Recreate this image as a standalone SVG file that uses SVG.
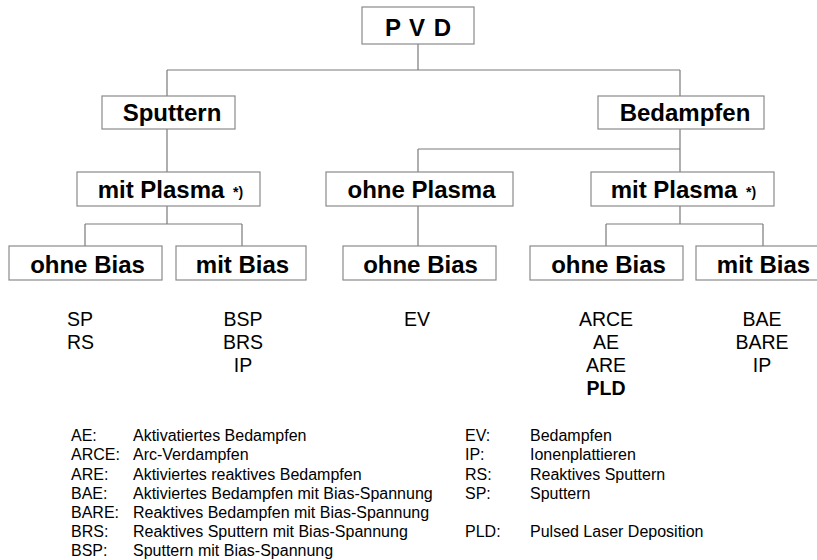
<svg xmlns="http://www.w3.org/2000/svg" width="817" height="560" viewBox="0 0 817 560">
<style>
.box{fill:#fff;stroke:#8a8a8a;stroke-width:1.2}
.lbl{font-family:"Liberation Sans",Arial,sans-serif;font-weight:bold;font-size:24px;fill:#000;text-anchor:middle}
.sup{font-family:"Liberation Sans",Arial,sans-serif;font-weight:bold;font-size:14px;fill:#000}
.lst{font-family:"Liberation Sans",Arial,sans-serif;font-size:19.5px;fill:#000}
.leg{font-family:"Liberation Sans",Arial,sans-serif;font-size:16px;fill:#000}
.con{fill:none;stroke:#7a7a7a;stroke-width:1.2}
</style>
<rect width="817" height="560" fill="#fff"/>
<g id="connectors">
<path class="con" d="M418 44V70M167 70H680M167 70V96M680 70V96"/>
<path class="con" d="M167 129V172M167 206V224M85 224H242M85 224V246M242 224V246"/>
<path class="con" d="M680 129V149M418 149H680M418 149V172M680 149V172"/>
<path class="con" d="M418 206V246"/>
<path class="con" d="M680 206V224M606 224H763M606 224V246M763 224V246"/>
</g>
<g id="pvd"><rect class="box" x="362" y="7" width="112" height="37"/><text class="lbl" x="418.5" y="36" font-size="26" letter-spacing="1">P V D</text></g>
<g id="sputtern"><rect class="box" x="102" y="96" width="133" height="33"/><text class="lbl" x="172" y="121">Sputtern</text></g>
<g id="bedampfen"><rect class="box" x="598" y="96" width="166" height="33"/><text class="lbl" x="685" y="121">Bedampfen</text></g>
<g id="sp-mit-plasma"><rect class="box" x="77" y="172" width="183" height="34"/><text class="lbl" x="161" y="198">mit Plasma</text><text class="sup" x="233" y="197">*)</text></g>
<g id="ohne-plasma"><rect class="box" x="326" y="172" width="187" height="34"/><text class="lbl" x="421.5" y="198">ohne Plasma</text></g>
<g id="bd-mit-plasma"><rect class="box" x="591" y="172" width="183" height="34"/><text class="lbl" x="674" y="198">mit Plasma</text><text class="sup" x="746" y="197">*)</text></g>
<g id="sp-ohne-bias"><rect class="box" x="9" y="246" width="153" height="34"/><text class="lbl" x="87.5" y="273">ohne Bias</text></g>
<g id="sp-mit-bias"><rect class="box" x="176" y="246" width="130" height="34"/><text class="lbl" x="242.5" y="273">mit Bias</text></g>
<g id="op-ohne-bias"><rect class="box" x="343" y="246" width="153" height="34"/><text class="lbl" x="420.5" y="273">ohne Bias</text></g>
<g id="bd-ohne-bias"><rect class="box" x="530" y="246" width="153" height="34"/><text class="lbl" x="608.5" y="273">ohne Bias</text></g>
<g id="bd-mit-bias"><rect class="box" x="696" y="246" width="130" height="34"/><text class="lbl" x="763.5" y="273">mit Bias</text></g>
<g id="lists" class="lst">
<text x="67" y="326">SP</text><text x="67" y="349">RS</text>
<g text-anchor="middle"><text x="243" y="326">BSP</text><text x="243" y="349">BRS</text><text x="243" y="372">IP</text></g>
<text x="417" y="326" text-anchor="middle">EV</text>
<g text-anchor="middle"><text x="606" y="326">ARCE</text><text x="606" y="349">AE</text><text x="606" y="372">ARE</text><text x="606" y="395" font-weight="bold">PLD</text></g>
<g text-anchor="middle"><text x="762" y="326">BAE</text><text x="762" y="349">BARE</text><text x="762" y="372">IP</text></g>
</g>
<g id="legend" class="leg">
<text x="71" y="441">AE:</text><text x="133" y="441">Aktivatiertes Bedampfen</text>
<text x="71" y="460">ARCE:</text><text x="133" y="460">Arc-Verdampfen</text>
<text x="71" y="479.5">ARE:</text><text x="133" y="479.5">Aktiviertes reaktives Bedampfen</text>
<text x="71" y="498.5">BAE:</text><text x="133" y="498.5">Aktiviertes Bedampfen mit Bias-Spannung</text>
<text x="71" y="518">BARE:</text><text x="133" y="518">Reaktives Bedampfen mit Bias-Spannung</text>
<text x="71" y="537">BRS:</text><text x="133" y="537">Reaktives Sputtern mit Bias-Spannung</text>
<text x="71" y="556">BSP:</text><text x="133" y="556">Sputtern mit Bias-Spannung</text>
<text x="465" y="441">EV:</text><text x="530" y="441">Bedampfen</text>
<text x="465" y="460">IP:</text><text x="530" y="460">Ionenplattieren</text>
<text x="465" y="479.5">RS:</text><text x="530" y="479.5">Reaktives Sputtern</text>
<text x="465" y="498.5">SP:</text><text x="530" y="498.5">Sputtern</text>
<text x="465" y="537">PLD:</text><text x="530" y="537">Pulsed Laser Deposition</text>
</g>
</svg>
